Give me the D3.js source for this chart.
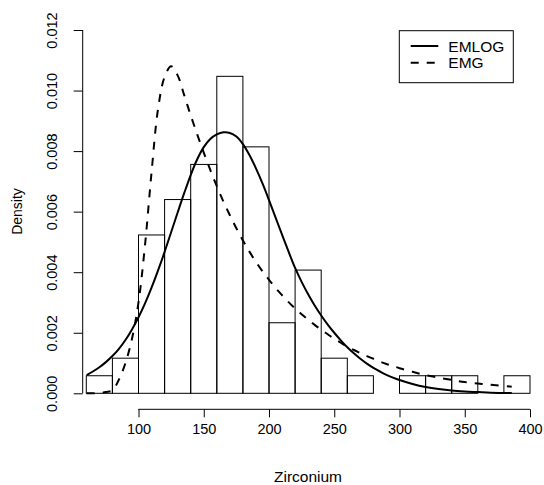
<!DOCTYPE html>
<html>
<head>
<meta charset="utf-8">
<script src="https://cdn.jsdelivr.net/npm/d3@7"></script>
<style>
  html, body { margin: 0; padding: 0; background: #fff; }
  svg text { font-family: "Liberation Sans", Arial, Helvetica, sans-serif; fill: #000; }
</style>
</head>
<body>
<svg id="chart" width="544" height="485"></svg>
<script>
// ---- data ----
const binEdges = [60, 80, 100, 120, 140, 160, 180, 200, 220, 240, 260, 280, 300, 320, 340, 360, 380, 400];
const binDensity = [0.00058, 0.00116, 0.00523, 0.00640, 0.00756, 0.01047, 0.00814, 0.00233, 0.00407,
                    0.00116, 0.00058, 0, 0.00058, 0.00058, 0.00058, 0, 0.00058];

const curveX = [60.3, 65, 70, 75, 80, 85, 90, 95, 100, 105, 110, 115, 120, 125, 130, 135, 140, 145, 150,
                155, 160, 165, 170, 175, 180, 185, 190, 195, 200, 205, 210, 215, 220, 225, 230, 235, 240,
                245, 250, 255, 260, 265, 270, 275, 280, 285, 290, 295, 300, 310, 320, 330, 340, 350, 360,
                370, 386];
const emlogY = [0.0006, 0.00072, 0.00086, 0.00103, 0.00123, 0.00147, 0.00176, 0.00211, 0.00251, 0.00297,
                0.00349, 0.00406, 0.00467, 0.00532, 0.00597, 0.00661, 0.00721, 0.00773, 0.00813, 0.0084,
                0.00855, 0.00862, 0.0086, 0.00848, 0.00823, 0.00787, 0.00743, 0.00693, 0.00638, 0.00581,
                0.00524, 0.00468, 0.00414, 0.00368, 0.00327, 0.0029, 0.00257, 0.00227, 0.002, 0.00175,
                0.00152, 0.00132, 0.00114, 0.00098, 0.00084, 0.00072, 0.00061, 0.00052, 0.00044, 0.00031,
                0.00021, 0.00014, 0.00009, 0.00006, 0.00004, 0.00002, 0.00001];
const emgY = [0.0, 0.0, 0.00001, 0.00004, 0.0001, 0.00045, 0.001, 0.0018, 0.0030, 0.0049, 0.0073, 0.0094,
              0.01045, 0.0108, 0.0105, 0.00985, 0.00918, 0.00855, 0.00795, 0.00738, 0.00684, 0.00634,
              0.00588, 0.00545, 0.00505, 0.00468, 0.00434, 0.00403, 0.00375, 0.00348, 0.00324, 0.00301,
              0.0028, 0.00261, 0.00243, 0.00226, 0.0021, 0.00195, 0.0018, 0.00167, 0.00154, 0.00143,
              0.00133, 0.00123, 0.00114, 0.00105, 0.00097, 0.0009, 0.00083, 0.00071, 0.0006, 0.00052,
              0.00044, 0.00037, 0.00032, 0.00028, 0.00022];

const xTicks = [100, 150, 200, 250, 300, 350, 400];
const yTicks = [0, 0.002, 0.004, 0.006, 0.008, 0.010, 0.012];
const legendLabels = ["EMLOG", "EMG"];
const xTitle = "Zirconium";
const yTitle = "Density";

// ---- layout ----
const svg = d3.select("#chart");
const FONT = 14.5;
const x = d3.scaleLinear().domain([100, 400]).range([138.5, 530]);
const y = d3.scaleLinear().domain([0, 0.012]).range([393.3, 30]);
const yAxisX = 82.7;
const xAxisY = 409.3;

// histogram bars
const bins = binDensity.map((d, i) => ({x0: binEdges[i], x1: binEdges[i + 1], d}));
svg.append("g").selectAll("rect").data(bins).enter().append("rect")
  .attr("x", b => x(b.x0)).attr("width", b => x(b.x1) - x(b.x0))
  .attr("y", b => y(b.d)).attr("height", b => y(0) - y(b.d))
  .attr("fill", "none").attr("stroke", "#000").attr("stroke-width", 1);

// curves
const line = d3.line().x(d => x(d[0])).y(d => y(d[1])).curve(d3.curveCatmullRom.alpha(0.5));
svg.append("path").datum(curveX.map((v, i) => [v, emlogY[i]]))
  .attr("d", line).attr("fill", "none").attr("stroke", "#000").attr("stroke-width", 2);
svg.append("path").datum(curveX.map((v, i) => [v, emgY[i]]))
  .attr("d", line).attr("fill", "none").attr("stroke", "#000").attr("stroke-width", 2)
  .attr("stroke-dasharray", "8,8");

// x axis
const xa = svg.append("g").attr("transform", `translate(0,${xAxisY})`)
  .call(d3.axisBottom(x).tickValues(xTicks).tickSize(8).tickPadding(17).tickFormat(d3.format("d")));
xa.select(".domain").attr("stroke", "#000").attr("d", `M${x(100)},0.5V0H${x(400)}`);
xa.selectAll(".tick line").attr("stroke", "#000");
xa.selectAll("text").style("font-size", FONT + "px").attr("dy", "0");

// y axis
const ya = svg.append("g").attr("transform", `translate(${yAxisX},0)`)
  .call(d3.axisLeft(y).tickValues(yTicks).tickSize(9).tickFormat(d3.format(".3f")));
ya.select(".domain").attr("stroke", "#000").attr("d", `M0,${y(0)}V${y(0.012)}`);
ya.selectAll(".tick line").attr("stroke", "#000");
ya.selectAll(".tick text")
  .attr("x", 0).attr("dy", 0)
  .attr("transform", "translate(-25.4,0) rotate(-90)")
  .attr("text-anchor", "middle")
  .style("font-size", FONT + "px");

// titles
svg.append("text").attr("x", 308).attr("y", 482).attr("text-anchor", "middle")
  .style("font-size", "15.5px").text(xTitle);
svg.append("text").attr("transform", "translate(21.7,211.5) rotate(-90)").attr("text-anchor", "middle")
  .style("font-size", "14px").text(yTitle);

// legend
const LFONT = 15.5;
const lg = svg.append("g");
lg.append("rect").attr("x", 399.3).attr("y", 30.7).attr("width", 114).attr("height", 52)
  .attr("fill", "#fff").attr("stroke", "#000").attr("stroke-width", 1);
const rowY = [46, 62.7];
legendLabels.forEach((lab, i) => {
  lg.append("line").attr("x1", 410.7).attr("x2", 438.3).attr("y1", rowY[i]).attr("y2", rowY[i])
    .attr("stroke", "#000").attr("stroke-width", 2)
    .attr("stroke-dasharray", i === 1 ? "8,8" : null);
  lg.append("text").attr("x", 448.3).attr("y", rowY[i] + LFONT * 0.36)
    .style("font-size", LFONT + "px").text(lab);
});
</script>
</body>
</html>
